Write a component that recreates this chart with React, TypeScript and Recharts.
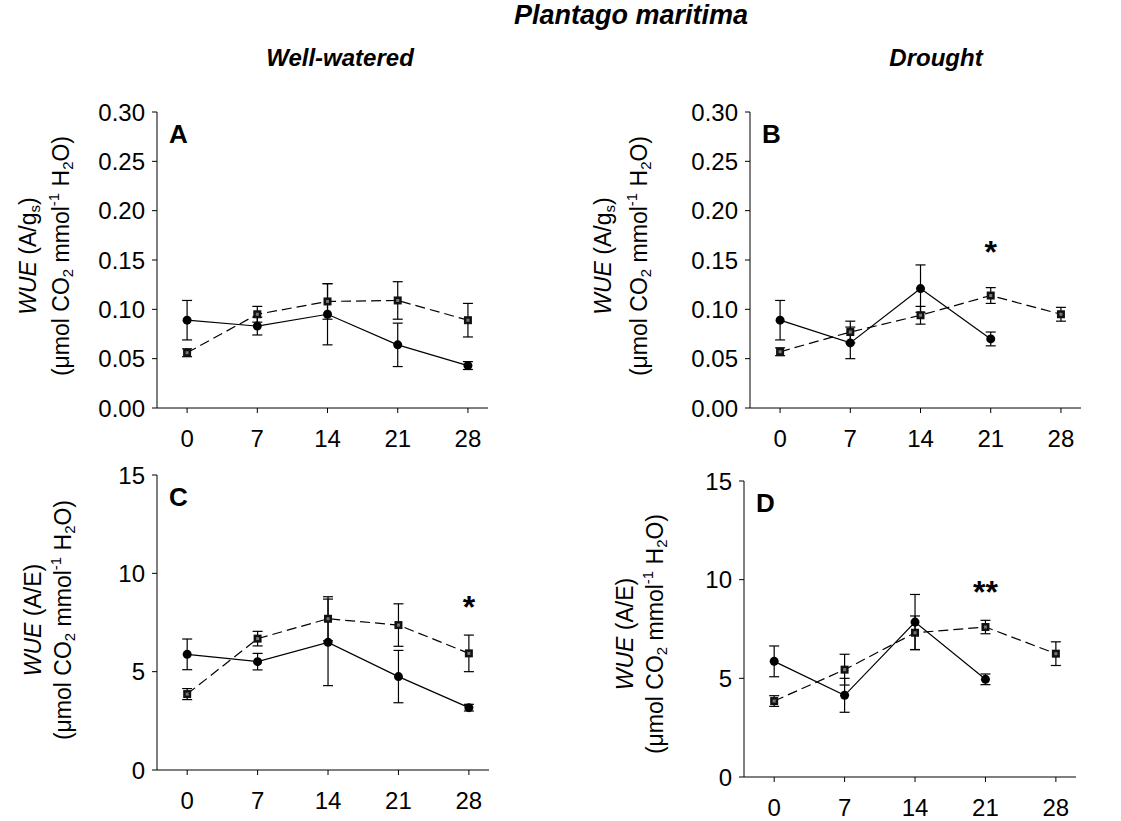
import React from "react";
import {
  LineChart,
  Line,
  XAxis,
  YAxis,
  ErrorBar,
  ReferenceDot,
} from "recharts";

const days = [0, 7, 14, 21, 28];
const dayTicks = [0, 7, 14, 21, 28];

const gsTicks = [0, 0.05, 0.1, 0.15, 0.2, 0.25, 0.3];
const eTicks = [0, 5, 10, 15];

// panel A - well-watered, A/gs
const aCircle = [0.089, 0.083, 0.095, 0.064, 0.043];
const aCircleErr = [0.02, 0.009, 0.031, 0.022, 0.004];
const aSquare = [0.056, 0.095, 0.108, 0.109, 0.089];
const aSquareErr = [0.004, 0.008, 0.018, 0.019, 0.017];

// panel B - drought, A/gs
const bCircle = [0.089, 0.066, 0.121, 0.07, null];
const bCircleErr = [0.02, 0.016, 0.024, 0.007, null];
const bSquare = [0.057, 0.077, 0.094, 0.114, 0.095];
const bSquareErr = [0.004, 0.011, 0.009, 0.008, 0.007];

// panel C - well-watered, A/E
const cCircle = [5.88, 5.51, 6.49, 4.75, 3.17];
const cCircleErr = [0.78, 0.42, 2.2, 1.33, 0.17];
const cSquare = [3.86, 6.68, 7.69, 7.37, 5.93];
const cSquareErr = [0.28, 0.37, 1.12, 1.08, 0.93];

// panel D - drought, A/E
const dCircle = [5.86, 4.14, 7.85, 4.95, null];
const dCircleErr = [0.78, 0.86, 1.4, 0.27, null];
const dSquare = [3.85, 5.44, 7.31, 7.6, 6.25];
const dSquareErr = [0.27, 0.78, 0.85, 0.34, 0.6];

const FONT = "'Liberation Sans', Arial, Helvetica, sans-serif";

type Row = {
  day: number;
  circ: number | null;
  circErr: number | null;
  sq: number | null;
  sqErr: number | null;
};

function buildRows(
  circ: (number | null)[],
  circErr: (number | null)[],
  sq: (number | null)[],
  sqErr: (number | null)[]
): Row[] {
  return days.map((d, i) => ({
    day: d,
    circ: circ[i],
    circErr: circErr[i],
    sq: sq[i],
    sqErr: sqErr[i],
  }));
}

const SquareDot = (props: any) => {
  const { cx, cy, value } = props;
  if (cx == null || cy == null || value == null) return null;
  return (
    <g>
      <rect x={cx - 4} y={cy - 4} width={8} height={8} fill="#111" />
      <rect x={cx - 1.5} y={cy - 1.5} width={3} height={3} fill="#777" />
    </g>
  );
};

const CircleDot = (props: any) => {
  const { cx, cy, value } = props;
  if (cx == null || cy == null || value == null) return null;
  return <circle cx={cx} cy={cy} r={4.5} fill="#000" />;
};

interface Star {
  x: number;
  y: number;
  text: string;
}

interface PanelProps {
  plotLeft: number;
  plotTop: number;
  plotW: number;
  plotH: number;
  yMax: number;
  yTicks: number[];
  fmt: (v: number) => string;
  rows: Row[];
  letter: string;
  stars: Star[];
  line1: React.ReactNode;
  line2: React.ReactNode;
  labelX1: number;
  labelX2: number;
  labelCy: number;
}

const Y_AXIS_W = 80;
const TOP_PAD = 20;
const X_AXIS_H = 55;
const TICK_FONT = 24;

function Panel(p: PanelProps) {
  const width = Y_AXIS_W + p.plotW + 10;
  const height = TOP_PAD + p.plotH + X_AXIS_H;
  return (
    <>
      <div
        style={{
          position: "absolute",
          left: p.plotLeft - Y_AXIS_W,
          top: p.plotTop - TOP_PAD,
        }}
      >
        <LineChart
          width={width}
          height={height}
          data={p.rows}
          margin={{ top: TOP_PAD, right: 10, bottom: 0, left: 0 }}
        >
          <XAxis
            dataKey="day"
            type="number"
            domain={[-3, 30]}
            ticks={dayTicks}
            allowDataOverflow
            height={X_AXIS_H}
            stroke="#000"
            tickSize={5}
            tickMargin={17}
            tick={{ fill: "#000", fontSize: TICK_FONT, fontFamily: FONT }}
          />
          <XAxis
            xAxisId="top"
            orientation="top"
            type="number"
            domain={[-3, 30]}
            height={0}
            tick={false}
            tickLine={false}
            stroke="#000"
          />
          <YAxis
            type="number"
            domain={[0, p.yMax]}
            ticks={p.yTicks}
            width={Y_AXIS_W}
            stroke="#000"
            tickSize={5}
            tickMargin={7}
            tickFormatter={p.fmt}
            tick={{ fill: "#000", fontSize: TICK_FONT, fontFamily: FONT }}
          />
          <YAxis
            yAxisId="right"
            orientation="right"
            type="number"
            domain={[0, 1]}
            width={0}
            tick={false}
            tickLine={false}
            stroke="#000"
          />
          <Line
            dataKey="sq"
            type="linear"
            stroke="#000"
            strokeWidth={1.2}
            strokeDasharray="10 5"
            dot={<SquareDot />}
            activeDot={false}
            isAnimationActive={false}
          >
            <ErrorBar dataKey="sqErr" direction="y" width={5} stroke="#000" strokeWidth={1.2} />
          </Line>
          <Line
            dataKey="circ"
            type="linear"
            stroke="#000"
            strokeWidth={1.2}
            dot={<CircleDot />}
            activeDot={false}
            isAnimationActive={false}
          >
            <ErrorBar dataKey="circErr" direction="y" width={5} stroke="#000" strokeWidth={1.2} />
          </Line>
          {p.stars.map((s, i) => (
            <ReferenceDot
              key={i}
              x={s.x}
              y={s.y}
              r={0}
              stroke="none"
              fill="none"
              label={{
                value: s.text,
                position: "center",
                fill: "#000",
                fontSize: 32,
                fontWeight: 700,
                fontFamily: FONT,
              }}
            />
          ))}
        </LineChart>
      </div>
      <div
        style={{
          position: "absolute",
          left: p.plotLeft + 12,
          top: p.plotTop + 7,
          fontFamily: FONT,
          fontWeight: 700,
          fontSize: 26,
          lineHeight: "30px",
        }}
      >
        {p.letter}
      </div>
      <RotLabel cx={p.labelX1} cy={p.labelCy}>
        {p.line1}
      </RotLabel>
      <RotLabel cx={p.labelX2} cy={p.labelCy}>
        {p.line2}
      </RotLabel>
    </>
  );
}

function RotLabel({ cx, cy, children }: { cx: number; cy: number; children: React.ReactNode }) {
  const w = 340;
  const h = 30;
  return (
    <div
      style={{
        position: "absolute",
        left: cx - w / 2,
        top: cy - h / 2,
        width: w,
        height: h,
        lineHeight: h + "px",
        textAlign: "center",
        transform: "rotate(-90deg)",
        fontFamily: FONT,
        fontSize: 23,
        whiteSpace: "nowrap",
      }}
    >
      {children}
    </div>
  );
}

const subStyle: React.CSSProperties = { fontSize: 15, verticalAlign: -4, lineHeight: 0 };
const supStyle: React.CSSProperties = { fontSize: 15, verticalAlign: 10, lineHeight: 0 };

const unitLine = (
  <span>
    (μmol CO<span style={subStyle}>2</span> mmol<span style={supStyle}>-1</span> H
    <span style={subStyle}>2</span>O)
  </span>
);

const gsLine = (
  <span>
    <i>WUE</i> (A/g<span style={subStyle}>s</span>)
  </span>
);

const eLine = (
  <span>
    <i>WUE</i> (A/E)
  </span>
);

const fmtGs = (v: number) => v.toFixed(2);
const fmtE = (v: number) => String(v);

const headStyle: React.CSSProperties = {
  position: "absolute",
  width: 400,
  textAlign: "center",
  fontWeight: 700,
  fontStyle: "italic",
  whiteSpace: "nowrap",
};

export default function App() {
  return (
    <div
      style={{
        position: "absolute",
        left: 0,
        top: 0,
        width: 1121,
        height: 821,
        background: "#fff",
        fontFamily: FONT,
      }}
    >
      <div style={{ ...headStyle, left: 631 - 200, top: 0, fontSize: 27 }}>
        Plantago maritima
      </div>
      <div style={{ ...headStyle, left: 340 - 200, top: 44, fontSize: 24 }}>
        Well-watered
      </div>
      <div style={{ ...headStyle, left: 936 - 200, top: 44, fontSize: 24 }}>
        Drought
      </div>

      <Panel
        plotLeft={157}
        plotTop={112}
        plotW={331}
        plotH={296}
        yMax={0.3}
        yTicks={gsTicks}
        fmt={fmtGs}
        rows={buildRows(aCircle, aCircleErr, aSquare, aSquareErr)}
        letter="A"
        stars={[]}
        line1={gsLine}
        line2={unitLine}
        labelX1={28}
        labelX2={61}
        labelCy={256}
      />
      <Panel
        plotLeft={750}
        plotTop={112}
        plotW={331}
        plotH={296}
        yMax={0.3}
        yTicks={gsTicks}
        fmt={fmtGs}
        rows={buildRows(bCircle, bCircleErr, bSquare, bSquareErr)}
        letter="B"
        stars={[{ x: 21, y: 0.158, text: "*" }]}
        line1={gsLine}
        line2={unitLine}
        labelX1={603}
        labelX2={639}
        labelCy={256}
      />
      <Panel
        plotLeft={157}
        plotTop={475}
        plotW={332}
        plotH={295}
        yMax={15}
        yTicks={eTicks}
        fmt={fmtE}
        rows={buildRows(cCircle, cCircleErr, cSquare, cSquareErr)}
        letter="C"
        stars={[{ x: 28, y: 8.3, text: "*" }]}
        line1={eLine}
        line2={unitLine}
        labelX1={33}
        labelX2={63}
        labelCy={620}
      />
      <Panel
        plotLeft={744}
        plotTop={481}
        plotW={332}
        plotH={296}
        yMax={15}
        yTicks={eTicks}
        fmt={fmtE}
        rows={buildRows(dCircle, dCircleErr, dSquare, dSquareErr)}
        letter="D"
        stars={[{ x: 21, y: 9.4, text: "**" }]}
        line1={eLine}
        line2={unitLine}
        labelX1={625}
        labelX2={655}
        labelCy={634}
      />
    </div>
  );
}
